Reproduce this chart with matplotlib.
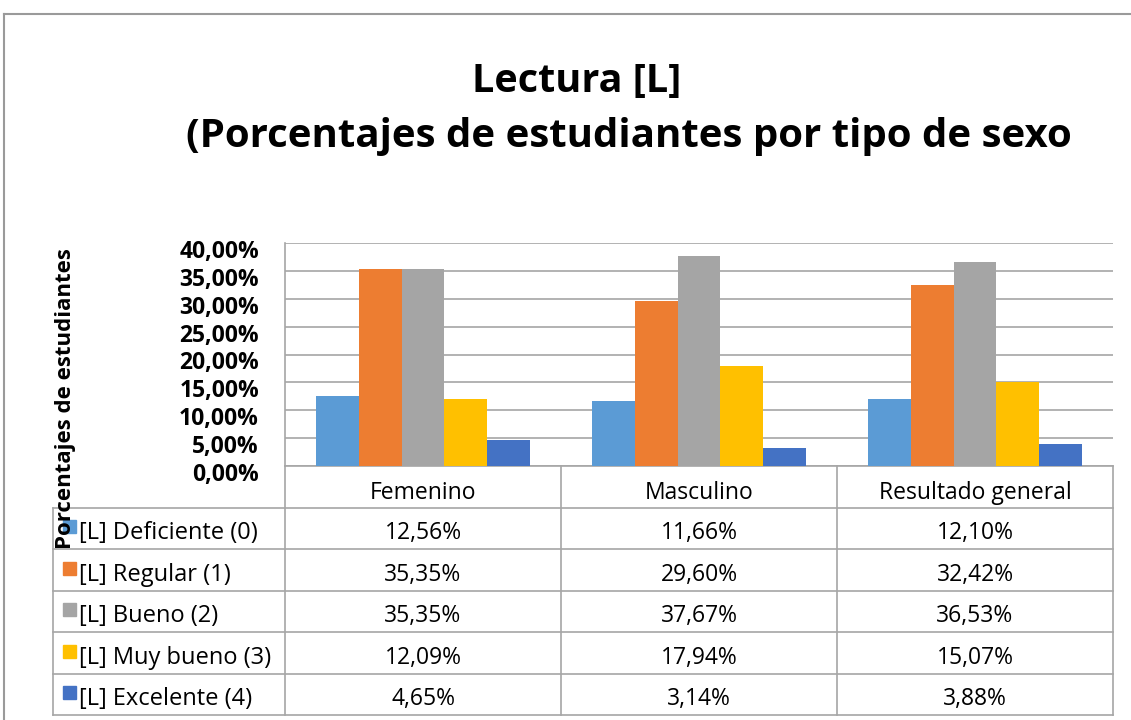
import matplotlib
matplotlib.use("Agg")
import matplotlib.pyplot as plt
from matplotlib.patches import Rectangle
from matplotlib.lines import Line2D
from matplotlib.ticker import FuncFormatter
import matplotlib.transforms as mtransforms

plt.rcParams['font.family'] = ['Open Sans', 'DejaVu Sans']

categories = ["Femenino", "Masculino", "Resultado general"]
series_names = ["[L] Deficiente (0)", "[L] Regular (1)", "[L] Bueno (2)",
                "[L] Muy bueno (3)", "[L] Excelente (4)"]
deficiente = [12.56, 11.66, 12.10]
regular = [35.35, 29.60, 32.42]
bueno = [35.35, 37.67, 36.53]
muy_bueno = [12.09, 17.94, 15.07]
excelente = [4.65, 3.14, 3.88]
series_values = [deficiente, regular, bueno, muy_bueno, excelente]
colors = ["#5B9BD5", "#ED7D31", "#A5A5A5", "#FFC000", "#4472C4"]
y_ticks = [0, 5, 10, 15, 20, 25, 30, 35, 40]

W, H = 1131, 720
fig = plt.figure(figsize=(W / 100, H / 100), dpi=100)

ov = fig.add_axes([0, 0, 1, 1], zorder=0)
ov.set_xlim(0, W)
ov.set_ylim(H, 0)
ov.axis('off')

grid_col = "#A6A6A6"
ov.add_line(Line2D([4, W], [13.5, 13.5], color="#9A9A9A", lw=1.5))
ov.add_line(Line2D([4, 4], [13.5, H], color="#9A9A9A", lw=1.5))

px_l, px_r, px_t, px_b = 285, 1113, 243, 466
ax = fig.add_axes([px_l / W, 1 - px_b / H, (px_r - px_l) / W, (px_b - px_t) / H], zorder=2)
ax.patch.set_alpha(0)
n = len(series_values)
bw = 0.155
for i, (vals, c) in enumerate(zip(series_values, colors)):
    xs = [k + (i - (n - 1) / 2) * bw for k in range(len(categories))]
    ax.bar(xs, vals, width=bw, color=c, zorder=3)
ax.set_xlim(-0.5, len(categories) - 0.5)
ax.set_ylim(0, 40)
ax.set_yticks(y_ticks)
ax.yaxis.set_major_formatter(FuncFormatter(lambda v, p: f"{v:.2f}%".replace('.', ',')))
ax.grid(axis='y', color=grid_col, lw=1.2, zorder=0)
ax.set_axisbelow(True)
ax.tick_params(axis='y', length=0, pad=18.7, labelsize=16.5)
ax.tick_params(axis='x', length=0, labelbottom=False)
for s in ['top', 'right']:
    ax.spines[s].set_visible(False)
for s in ['left', 'bottom']:
    ax.spines[s].set_color(grid_col)
    ax.spines[s].set_linewidth(1.2)
off = mtransforms.ScaledTranslation(0, -6 / 100, fig.dpi_scale_trans)
for lab in ax.get_yticklabels():
    lab.set_fontweight('bold')
    lab.set_transform(lab.get_transform() + off)

ov.text(577, 82, "Lectura [L]", ha='center', va='center', fontsize=28.5, fontweight='bold')
ov.text(629, 137, "(Porcentajes de estudiantes por tipo de sexo", ha='center', va='center',
        fontsize=29, fontweight='bold')

ov.text(66, 399, "Porcentajes de estudiantes", rotation=90, ha='center', va='center',
        fontsize=16, fontweight='bold', zorder=5)

col_w = (px_r - px_l) / len(categories)
col_edges = [px_l + k * col_w for k in range(len(categories) + 1)]
row_h = 41.5
hdr_top = px_b
rows_top = hdr_top + row_h
tbl_left = 53
row_edges = [rows_top + r * row_h for r in range(len(series_names) + 1)]
for xe in col_edges:
    ov.add_line(Line2D([xe, xe], [hdr_top, row_edges[-1]], color=grid_col, lw=1.2))
ov.add_line(Line2D([tbl_left, tbl_left], [rows_top, row_edges[-1]], color=grid_col, lw=1.2))
for ye in row_edges:
    ov.add_line(Line2D([tbl_left, px_r], [ye, ye], color=grid_col, lw=1.2))

for k, cat in enumerate(categories):
    ov.text((col_edges[k] + col_edges[k + 1]) / 2, hdr_top + row_h / 2 + 6, cat,
            ha='center', va='center', fontsize=16.5)

for r, (name, vals, c) in enumerate(zip(series_names, series_values, colors)):
    yc = row_edges[r] + row_h / 2 + 5
    ov.add_patch(Rectangle((63, yc - 13), 13, 13, color=c, zorder=3))
    ov.text(79, yc, name, ha='left', va='center', fontsize=17)
    for k, v in enumerate(vals):
        ov.text((col_edges[k] + col_edges[k + 1]) / 2, yc, f"{v:.2f}%".replace('.', ','),
                ha='center', va='center', fontsize=16.5)

fig.savefig("out.png", dpi=100)
